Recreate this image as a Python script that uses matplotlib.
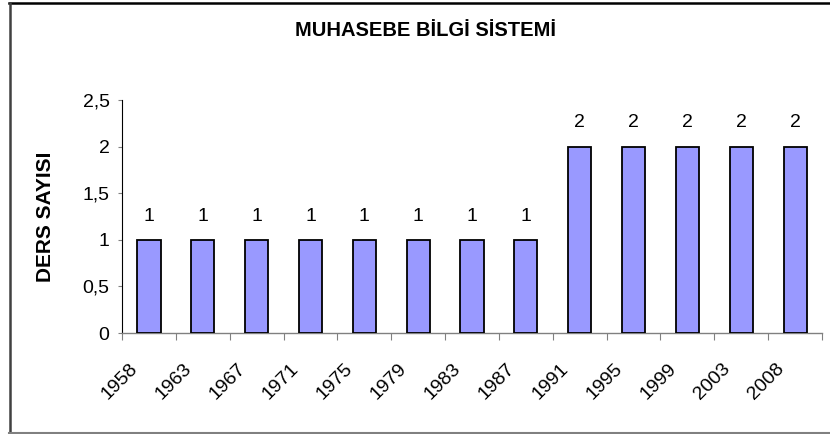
import matplotlib
matplotlib.use("Agg")
import matplotlib.pyplot as plt
import matplotlib.transforms as mtransforms
from matplotlib.lines import Line2D

plt.rcParams['font.family'] = ['Liberation Sans', 'DejaVu Sans']

# data
years = ['1958', '1963', '1967', '1971', '1975', '1979', '1983',
         '1987', '1991', '1995', '1999', '2003', '2008']
ders_sayisi = [1, 1, 1, 1, 1, 1, 1, 1, 2, 2, 2, 2, 2]
yticks = [0, 0.5, 1, 1.5, 2, 2.5]
ytick_labels = ['0', '0,5', '1', '1,5', '2', '2,5']

fig = plt.figure(figsize=(8.3, 4.34), dpi=100)
ax = fig.add_axes([122 / 830, 101 / 434, 700 / 830, 233 / 434])

x = range(len(years))
bars = ax.bar(x, ders_sayisi, width=0.43, color='#9999FF',
              edgecolor='black', linewidth=1.3, zorder=3)

# value labels above bars
for b, v in zip(bars, ders_sayisi):
    ax.annotate(str(v), (b.get_x() + b.get_width() / 2, v),
                xytext=(0, 11), textcoords='offset points',
                ha='center', va='bottom', fontsize=14)

ax.set_xlim(-0.5, len(years) - 0.5)
ax.set_ylim(0, 2.5)

ax.set_yticks(yticks)
ax.set_yticklabels(ytick_labels, fontsize=14)
ax.tick_params(axis='y', direction='out', length=3, width=0.8,
               color='#808080', pad=6)

# x ticks between categories, labels at centers
ax.set_xticks([i - 0.5 for i in range(len(years) + 1)])
ax.set_xticklabels([])
ax.set_xticks(list(x), minor=True)
ax.set_xticklabels(years, minor=True, fontsize=14, rotation=45,
                   ha='right', va='top', rotation_mode='anchor')
ax.tick_params(axis='x', which='major', direction='out', length=4.8,
               width=0.8, color='#808080')
ax.tick_params(axis='x', which='minor', length=0, pad=15)
# excel puts rotated labels a bit left of the category centre
shift = mtransforms.ScaledTranslation(-20 / 100, -6 / 100, fig.dpi_scale_trans)
for lbl in ax.get_xticklabels(minor=True):
    lbl.set_transform(lbl.get_transform() + shift)

for s in ['top', 'right']:
    ax.spines[s].set_visible(False)
ax.spines['left'].set_color('black')
ax.spines['left'].set_linewidth(0.8)
ax.spines['bottom'].set_color('#808080')
ax.spines['bottom'].set_linewidth(1.0)

ax.set_ylabel('DERS SAYISI', fontsize=15, fontweight='bold')
ax.yaxis.set_label_coords(-0.096, 0.5)

fig.text(425 / 830, 1 - 30 / 434, 'MUHASEBE BİLGİ SİSTEMİ', ha='center',
         va='center', fontsize=14.5, fontweight='bold')

# chart area border
fig.add_artist(Line2D([9 / 830, 1], [1 - 2.5 / 434, 1 - 2.5 / 434],
                      transform=fig.transFigure, color='black', lw=1.8))
fig.add_artist(Line2D([9.5 / 830, 9.5 / 830], [1 - 2.5 / 434, 1 - 432.5 / 434],
                      transform=fig.transFigure, color='#404040', lw=1.8))
fig.add_artist(Line2D([9 / 830, 1], [1 - 432.5 / 434, 1 - 432.5 / 434],
                      transform=fig.transFigure, color='#808080', lw=1.5))

fig.savefig('out.png', dpi=100)
